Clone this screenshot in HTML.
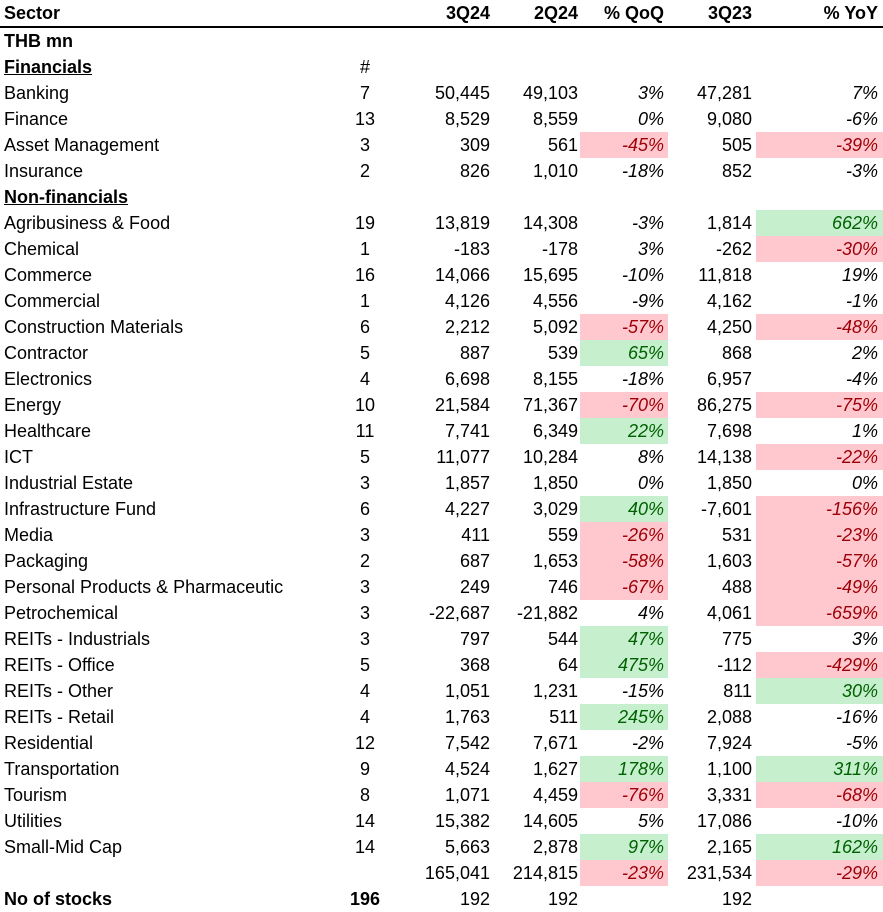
<!DOCTYPE html>
<html><head><meta charset="utf-8"><style>
body{margin:0;width:883px;height:911px;background:#fff;overflow:hidden}
table{border-collapse:collapse;table-layout:fixed;font-family:"Liberation Sans",sans-serif;font-size:18px;color:#000}
td{height:26px;padding:0;white-space:nowrap;overflow:hidden;line-height:26px}
td.l{padding-left:4px}
td.c{text-align:center}
td.n1{text-align:right;padding-right:4px}
td.n2{text-align:right;padding-right:2px}
td.n3{text-align:right;padding-right:4px}
td.n4{text-align:right;padding-right:4px}
td.n5{text-align:right;padding-right:5px}
.p{font-style:italic}
.r{background:#FFC7CE;color:#9C0006}
.g{background:#C6EFCE;color:#006100}
tr.h td{font-weight:bold;border-bottom:2px solid #000;height:25px}
.b{font-weight:bold}
.u{font-weight:bold;text-decoration:underline}
</style></head><body>
<table>
<colgroup><col style="width:330px"><col style="width:70px"><col style="width:94px"><col style="width:86px"><col style="width:88px"><col style="width:88px"><col style="width:127px"></colgroup>
<tr class="h"><td class="l">Sector</td><td></td><td class="n1">3Q24</td><td class="n2">2Q24</td><td class="n3">% QoQ</td><td class="n4">3Q23</td><td class="n5">% YoY</td></tr>
<tr><td class="l b">THB mn</td><td></td><td></td><td></td><td></td><td></td><td></td></tr>
<tr><td class="l u">Financials</td><td class="c">#</td><td></td><td></td><td></td><td></td><td></td></tr>
<tr><td class="l">Banking</td><td class="c">7</td><td class="n1">50,445</td><td class="n2">49,103</td><td class="n3 p">3%</td><td class="n4">47,281</td><td class="n5 p">7%</td></tr>
<tr><td class="l">Finance</td><td class="c">13</td><td class="n1">8,529</td><td class="n2">8,559</td><td class="n3 p">0%</td><td class="n4">9,080</td><td class="n5 p">-6%</td></tr>
<tr><td class="l">Asset Management</td><td class="c">3</td><td class="n1">309</td><td class="n2">561</td><td class="n3 p r">-45%</td><td class="n4">505</td><td class="n5 p r">-39%</td></tr>
<tr><td class="l">Insurance</td><td class="c">2</td><td class="n1">826</td><td class="n2">1,010</td><td class="n3 p">-18%</td><td class="n4">852</td><td class="n5 p">-3%</td></tr>
<tr><td class="l u">Non-financials</td><td></td><td></td><td></td><td></td><td></td><td></td></tr>
<tr><td class="l">Agribusiness &amp; Food</td><td class="c">19</td><td class="n1">13,819</td><td class="n2">14,308</td><td class="n3 p">-3%</td><td class="n4">1,814</td><td class="n5 p g">662%</td></tr>
<tr><td class="l">Chemical</td><td class="c">1</td><td class="n1">-183</td><td class="n2">-178</td><td class="n3 p">3%</td><td class="n4">-262</td><td class="n5 p r">-30%</td></tr>
<tr><td class="l">Commerce</td><td class="c">16</td><td class="n1">14,066</td><td class="n2">15,695</td><td class="n3 p">-10%</td><td class="n4">11,818</td><td class="n5 p">19%</td></tr>
<tr><td class="l">Commercial</td><td class="c">1</td><td class="n1">4,126</td><td class="n2">4,556</td><td class="n3 p">-9%</td><td class="n4">4,162</td><td class="n5 p">-1%</td></tr>
<tr><td class="l">Construction Materials</td><td class="c">6</td><td class="n1">2,212</td><td class="n2">5,092</td><td class="n3 p r">-57%</td><td class="n4">4,250</td><td class="n5 p r">-48%</td></tr>
<tr><td class="l">Contractor</td><td class="c">5</td><td class="n1">887</td><td class="n2">539</td><td class="n3 p g">65%</td><td class="n4">868</td><td class="n5 p">2%</td></tr>
<tr><td class="l">Electronics</td><td class="c">4</td><td class="n1">6,698</td><td class="n2">8,155</td><td class="n3 p">-18%</td><td class="n4">6,957</td><td class="n5 p">-4%</td></tr>
<tr><td class="l">Energy</td><td class="c">10</td><td class="n1">21,584</td><td class="n2">71,367</td><td class="n3 p r">-70%</td><td class="n4">86,275</td><td class="n5 p r">-75%</td></tr>
<tr><td class="l">Healthcare</td><td class="c">11</td><td class="n1">7,741</td><td class="n2">6,349</td><td class="n3 p g">22%</td><td class="n4">7,698</td><td class="n5 p">1%</td></tr>
<tr><td class="l">ICT</td><td class="c">5</td><td class="n1">11,077</td><td class="n2">10,284</td><td class="n3 p">8%</td><td class="n4">14,138</td><td class="n5 p r">-22%</td></tr>
<tr><td class="l">Industrial Estate</td><td class="c">3</td><td class="n1">1,857</td><td class="n2">1,850</td><td class="n3 p">0%</td><td class="n4">1,850</td><td class="n5 p">0%</td></tr>
<tr><td class="l">Infrastructure Fund</td><td class="c">6</td><td class="n1">4,227</td><td class="n2">3,029</td><td class="n3 p g">40%</td><td class="n4">-7,601</td><td class="n5 p r">-156%</td></tr>
<tr><td class="l">Media</td><td class="c">3</td><td class="n1">411</td><td class="n2">559</td><td class="n3 p r">-26%</td><td class="n4">531</td><td class="n5 p r">-23%</td></tr>
<tr><td class="l">Packaging</td><td class="c">2</td><td class="n1">687</td><td class="n2">1,653</td><td class="n3 p r">-58%</td><td class="n4">1,603</td><td class="n5 p r">-57%</td></tr>
<tr><td class="l">Personal Products &amp; Pharmaceutic</td><td class="c">3</td><td class="n1">249</td><td class="n2">746</td><td class="n3 p r">-67%</td><td class="n4">488</td><td class="n5 p r">-49%</td></tr>
<tr><td class="l">Petrochemical</td><td class="c">3</td><td class="n1">-22,687</td><td class="n2">-21,882</td><td class="n3 p">4%</td><td class="n4">4,061</td><td class="n5 p r">-659%</td></tr>
<tr><td class="l">REITs - Industrials</td><td class="c">3</td><td class="n1">797</td><td class="n2">544</td><td class="n3 p g">47%</td><td class="n4">775</td><td class="n5 p">3%</td></tr>
<tr><td class="l">REITs - Office</td><td class="c">5</td><td class="n1">368</td><td class="n2">64</td><td class="n3 p g">475%</td><td class="n4">-112</td><td class="n5 p r">-429%</td></tr>
<tr><td class="l">REITs - Other</td><td class="c">4</td><td class="n1">1,051</td><td class="n2">1,231</td><td class="n3 p">-15%</td><td class="n4">811</td><td class="n5 p g">30%</td></tr>
<tr><td class="l">REITs - Retail</td><td class="c">4</td><td class="n1">1,763</td><td class="n2">511</td><td class="n3 p g">245%</td><td class="n4">2,088</td><td class="n5 p">-16%</td></tr>
<tr><td class="l">Residential</td><td class="c">12</td><td class="n1">7,542</td><td class="n2">7,671</td><td class="n3 p">-2%</td><td class="n4">7,924</td><td class="n5 p">-5%</td></tr>
<tr><td class="l">Transportation</td><td class="c">9</td><td class="n1">4,524</td><td class="n2">1,627</td><td class="n3 p g">178%</td><td class="n4">1,100</td><td class="n5 p g">311%</td></tr>
<tr><td class="l">Tourism</td><td class="c">8</td><td class="n1">1,071</td><td class="n2">4,459</td><td class="n3 p r">-76%</td><td class="n4">3,331</td><td class="n5 p r">-68%</td></tr>
<tr><td class="l">Utilities</td><td class="c">14</td><td class="n1">15,382</td><td class="n2">14,605</td><td class="n3 p">5%</td><td class="n4">17,086</td><td class="n5 p">-10%</td></tr>
<tr><td class="l">Small-Mid Cap</td><td class="c">14</td><td class="n1">5,663</td><td class="n2">2,878</td><td class="n3 p g">97%</td><td class="n4">2,165</td><td class="n5 p g">162%</td></tr>
<tr><td class="l"></td><td></td><td class="n1">165,041</td><td class="n2">214,815</td><td class="n3 p r">-23%</td><td class="n4">231,534</td><td class="n5 p r">-29%</td></tr>
<tr><td class="l b">No of stocks</td><td class="c b">196</td><td class="n1">192</td><td class="n2">192</td><td></td><td class="n4">192</td><td></td></tr>
</table>
</body></html>
